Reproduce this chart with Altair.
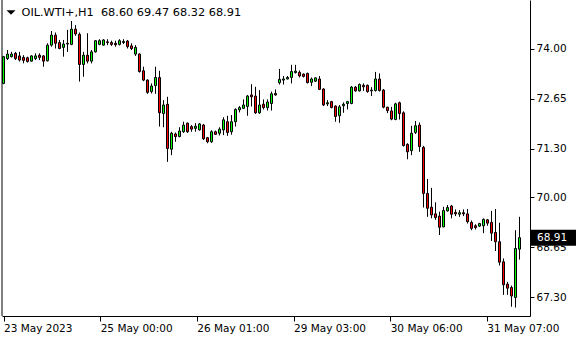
import altair as alt
import pandas as pd

symbol = "OIL.WTI+,H1"

opens = [73.06, 73.73, 73.78, 73.87, 73.80, 73.76, 73.75, 73.66, 73.73, 73.82,
         73.80, 73.67, 74.09, 74.36, 74.16, 74.03, 74.14, 74.11, 74.52, 74.38,
         73.57, 73.82, 73.66, 73.91, 74.11, 74.09, 74.18, 74.16, 74.14, 74.11,
         74.16, 74.20, 74.07, 73.85, 73.85, 73.40, 73.15, 72.84, 73.00, 73.22,
         72.25, 72.50, 71.29, 71.70, 71.63, 71.76, 71.99, 71.90, 71.85, 71.81,
         71.94, 71.60, 71.49, 71.76, 71.72, 71.81, 72.03, 71.76, 72.03, 72.35,
         72.39, 72.44, 72.75, 72.72, 72.27, 72.50, 72.41, 72.52, 72.79, 73.08,
         73.15, 73.18, 73.22, 73.35, 73.36, 73.31, 73.33, 73.09, 73.12, 73.18,
         72.91, 72.51, 72.57, 72.45, 72.19, 72.46, 72.52, 72.52, 72.96, 72.86,
         73.01, 73.01, 72.86, 72.87, 73.18, 72.88, 72.42, 72.32, 72.09, 72.54,
         72.27, 71.42, 71.25, 71.74, 71.94, 71.34, 70.10, 69.73, 69.55, 69.49,
         69.20, 69.63, 69.76, 69.59, 69.54, 69.58, 69.55, 69.32, 69.23, 69.22,
         69.23, 69.39, 69.32, 69.05, 68.80, 68.26, 67.66, 67.57, 67.30, 68.60]
highs = [73.80, 73.96, 73.91, 73.91, 73.91, 73.82, 73.78, 73.82, 73.87, 73.87,
         73.82, 74.14, 74.47, 74.43, 74.23, 74.23, 74.50, 74.74, 74.63, 74.43,
         73.91, 74.41, 73.96, 74.23, 74.25, 74.25, 74.25, 74.21, 74.21, 74.25,
         74.25, 74.23, 74.14, 74.09, 73.87, 73.51, 73.17, 73.06, 73.51, 73.40,
         72.61, 72.70, 71.76, 71.74, 71.88, 72.03, 72.01, 71.94, 71.99, 71.99,
         71.97, 71.62, 71.80, 71.79, 71.88, 72.15, 72.19, 72.21, 72.39, 72.45,
         72.63, 72.75, 73.04, 72.97, 72.88, 72.63, 72.63, 72.84, 72.90, 73.45,
         73.26, 73.26, 73.56, 73.56, 73.41, 73.33, 73.35, 73.22, 73.22, 73.26,
         72.93, 72.61, 72.59, 72.47, 72.48, 72.55, 72.59, 72.99, 72.99, 73.06,
         73.06, 73.03, 72.96, 73.37, 73.33, 72.91, 72.43, 72.43, 72.54, 72.57,
         72.31, 71.45, 71.92, 72.05, 72.01, 71.38, 70.49, 70.25, 69.86, 69.61,
         69.74, 69.79, 69.79, 69.67, 69.65, 69.67, 69.68, 69.37, 69.27, 69.31,
         69.43, 69.41, 69.63, 69.68, 69.31, 68.35, 67.72, 67.62, 69.11, 69.47]
lows = [73.04, 73.69, 73.76, 73.69, 73.65, 73.60, 73.62, 73.65, 73.69, 73.69,
        73.51, 73.65, 74.05, 74.00, 73.98, 73.78, 73.91, 74.09, 74.34, 73.11,
        73.24, 73.60, 73.60, 73.89, 74.09, 74.08, 74.09, 74.07, 74.05, 74.08,
        74.12, 74.00, 73.96, 73.80, 73.35, 73.12, 72.78, 72.79, 72.78, 71.90,
        71.88, 70.95, 71.13, 71.49, 71.61, 71.73, 71.73, 71.76, 71.76, 71.79,
        71.54, 71.45, 71.46, 71.68, 71.66, 71.67, 71.65, 71.68, 71.90, 72.28,
        72.37, 72.19, 72.44, 72.24, 72.24, 72.36, 72.33, 72.33, 72.73, 73.03,
        73.03, 73.17, 73.06, 73.33, 73.22, 73.22, 73.06, 72.99, 73.10, 72.88,
        72.45, 72.45, 72.39, 72.03, 72.00, 72.27, 72.36, 72.50, 72.84, 72.84,
        72.86, 72.81, 72.72, 72.84, 72.84, 72.39, 72.26, 72.07, 72.07, 72.09,
        71.36, 71.02, 71.13, 71.70, 71.22, 69.72, 69.47, 69.43, 69.39, 68.98,
        69.19, 69.61, 69.43, 69.49, 69.47, 69.49, 69.29, 69.11, 69.13, 69.20,
        69.03, 69.23, 68.82, 68.55, 68.16, 67.37, 67.37, 67.05, 67.03, 68.32]
closes = [73.78, 73.85, 73.85, 73.73, 73.69, 73.68, 73.65, 73.80, 73.80, 73.76,
          73.66, 74.09, 74.36, 74.14, 74.00, 74.12, 74.12, 74.52, 74.39, 73.57,
          73.82, 73.66, 73.91, 74.21, 74.21, 74.23, 74.16, 74.11, 74.10, 74.21,
          74.19, 74.05, 74.00, 74.03, 73.38, 73.15, 72.82, 72.99, 73.22, 72.27,
          72.48, 71.31, 71.72, 71.63, 71.78, 71.94, 71.76, 71.83, 71.91, 71.97,
          71.57, 71.49, 71.76, 71.69, 71.83, 72.08, 71.74, 72.03, 72.36, 72.41,
          72.48, 72.72, 72.70, 72.27, 72.48, 72.41, 72.56, 72.78, 72.75, 73.17,
          73.18, 73.22, 73.38, 73.39, 73.26, 73.25, 73.08, 73.18, 73.21, 72.90,
          72.48, 72.54, 72.41, 72.17, 72.43, 72.50, 72.57, 72.96, 72.86, 73.03,
          72.97, 72.84, 72.88, 73.18, 72.87, 72.42, 72.33, 72.10, 72.51, 72.25,
          71.39, 71.22, 71.72, 71.92, 71.36, 70.10, 69.70, 69.52, 69.45, 69.19,
          69.64, 69.72, 69.54, 69.55, 69.58, 69.55, 69.34, 69.16, 69.18, 69.29,
          69.40, 69.30, 69.03, 68.80, 68.25, 67.64, 67.55, 67.34, 68.62, 68.91]

time_tick_pos = [0, 24.17, 48.33, 72.5, 96.67, 120.83]
time_tick_labels = ["23 May 2023", "25 May 00:00", "26 May 01:00",
                    "29 May 03:00", "30 May 06:00", "31 May 07:00"]
price_ticks = [74.00, 72.65, 71.30, 70.00, 68.65, 67.30]

# ---- layout (pixels) ----
PAD_L, PAD_T = 2, 0
W, H = 528, 316
PX_PER_UNIT = 37.16      # vertical pixels per price unit
Y_REF_PX = 48.5          # pixel row of 74.00
BAR_PX = 4
ymax = 74.0 + (Y_REF_PX - PAD_T) / PX_PER_UNIT
ymin = ymax - H / PX_PER_UNIT
xa = -1.5 / BAR_PX
xb = xa + W / BAR_PX

FONT = "DejaVu Sans"
FS = 10.5

df = pd.DataFrame({"i": list(range(len(opens))), "open": opens, "high": highs,
                   "low": lows, "close": closes})
df["dir"] = ["up" if c >= o else "down" for o, c in zip(opens, closes)]

last = df.tail(1).copy()
last["label"] = [f"{closes[-1]:.2f}"]

xs = alt.Scale(domain=[xa, xb], nice=False, zero=False, padding=0)
ys = alt.Scale(domain=[ymin, ymax], nice=False, zero=False, padding=0)

label_expr = ("[" + ",".join(f"'{t}'" for t in time_tick_labels) + "][indexof(["
              + ",".join(str(p) for p in time_tick_pos) + "], datum.value)]")

base = alt.Chart(df)

wicks = base.mark_rule(color="black", strokeWidth=1).encode(
    x=alt.X("i:Q", scale=xs, axis=alt.Axis(
        values=time_tick_pos, labelExpr=label_expr, orient="bottom", title=None,
        grid=False, domain=True, domainColor="black", tickColor="black",
        tickSize=5, labelAlign="left", labelPadding=2, labelFont=FONT,
        labelFontSize=FS, labelColor="black", labelFlush=False, labelOverlap=False)),
    y=alt.Y("low:Q", scale=ys, axis=alt.Axis(
        values=price_ticks, format=".2f", orient="right", title=None, grid=False,
        domain=True, domainColor="black", tickColor="black", tickSize=4,
        labelPadding=2, labelFont=FONT, labelFontSize=FS, labelColor="black",
        labelFlush=False, labelOverlap=False)),
    y2="high:Q",
)

bodies = base.mark_bar(size=2, stroke="black", strokeWidth=1).encode(
    x=alt.X("i:Q", scale=xs),
    y=alt.Y("open:Q", scale=ys),
    y2="close:Q",
    color=alt.Color("dir:N", scale=alt.Scale(domain=["up", "down"],
                                             range=["#00ff00", "#ff0000"]),
                    legend=None),
)

left_edge = alt.Chart(df.head(1)).mark_rule(color="black", strokeWidth=1).encode(
    x=alt.value(0), y=alt.value(0), y2=alt.value(H))

price_box = alt.Chart(last).mark_rule(color="black", strokeWidth=16,
                                      strokeCap="butt").encode(
    x=alt.value(W + 1), x2=alt.value(W + 46), y=alt.Y("close:Q", scale=ys))

price_text = alt.Chart(last).mark_text(align="left", baseline="middle",
                                       color="white", font=FONT,
                                       fontSize=FS).encode(
    x=alt.value(W + 7), y=alt.Y("close:Q", scale=ys), text="label:N")

header_df = pd.DataFrame({"t": [f"{symbol}\u00a0\u00a0{opens[-1]:.2f} {highs[-1]:.2f} "
                                f"{lows[-1]:.2f} {closes[-1]:.2f}"]})
header = alt.Chart(header_df).mark_text(align="left", baseline="middle",
                                        color="black", font=FONT,
                                        fontSize=11.3).encode(
    x=alt.value(19.5), y=alt.value(13), text="t:N")

tri = alt.Chart(header_df).mark_point(
    shape="M-1,-0.5L1,-0.5L0,0.5Z", size=81, filled=True, color="black",
    opacity=1).encode(x=alt.value(9), y=alt.value(12.5))

chart = alt.layer(wicks, bodies, left_edge, price_box, price_text, header, tri).properties(
    width=W, height=H,
    autosize=alt.AutoSizeParams(type="none"),
    padding={"left": PAD_L, "top": PAD_T, "right": 580 - PAD_L - W,
             "bottom": 340 - PAD_T - H},
    background="white",
).configure_view(stroke=None)

chart.save("out.html", embed_options={"renderer": "svg", "actions": False})
